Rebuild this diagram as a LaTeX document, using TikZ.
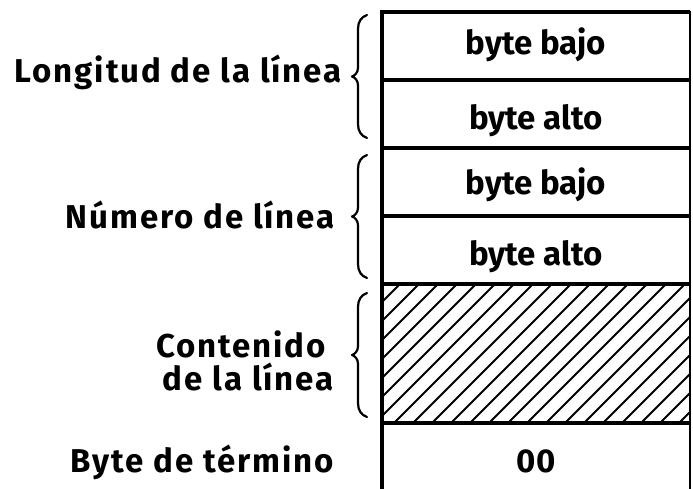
\documentclass[tikz,border=0pt]{standalone}
\usepackage{fontspec}
\setmainfont{Fira Sans}
\newfontfamily\lblfont[LetterSpace=5.8]{Fira Sans}
\begin{document}
\begin{tikzpicture}[x=1pt,y=-1pt,
  thickline/.style={line width=4pt},
  thinline/.style={line width=1.8pt},
  hatchline/.style={line width=1.8pt},
  bracestyle/.style={line width=2.2pt, line cap=round, line join=round},
  txt/.style={font=\fontsize{33}{36}\selectfont\bfseries, inner sep=0pt},
  lbl/.style={font=\lblfont\fontsize{33}{36}\selectfont\bfseries, inner sep=0pt, anchor=base east}]
\useasboundingbox (0,0) rectangle (693,489);
% hatching
\begin{scope}
  \clip (382,284) rectangle (690,423);
  \foreach \k in {0,...,25} {
    \draw[hatchline] (240+\k*19,425) -- ++(143,-143);
  }
\end{scope}
% box lines
\draw[thickline] (380,12) -- (690,12);
\foreach \yy in {80,148,216,284,423} {
  \draw[thickline] (382,\yy) -- (690,\yy);
}
\draw[thickline] (382,10) -- (382,489);
\draw[thinline] (690,11) -- (690,489);
% cell texts
\node[txt, anchor=base] (b1) at (536,55) {byte bajo};
\node[txt, anchor=base] (a1) at (536,130) {byte alto};
\node[txt, anchor=base] (b2) at (536,195) {byte bajo};
\node[txt, anchor=base] (a2) at (536,265) {byte alto};
\node[txt, anchor=base] (z) at (536,472) {00};
% labels
\node[lbl] (l1) at (342,83) {Longitud de la línea};
\node[lbl] (l2) at (335,229) {Número de línea};
\node[lbl] (l3) at (326,357) {Contenido};
\node[lbl] (l4) at (334,390) {de la línea};
\node[lbl] (l5) at (334,472) {Byte de término};
% braces
\foreach \t/\b in {15/138, 155/278, 293/417} {
  \pgfmathsetmacro{\m}{(\t+\b)/2}
  \draw[bracestyle] (367,\t) .. controls (361,\t+2) and (358,\t+7) .. (358,\t+14)
    -- (358,\m-9) .. controls (358,\m-4) and (355,\m-1) .. (352,\m)
    .. controls (355,\m+1) and (358,\m+4) .. (358,\m+9)
    -- (358,\b-14) .. controls (358,\b-7) and (361,\b-2) .. (367,\b);
}
\end{tikzpicture}
\end{document}
